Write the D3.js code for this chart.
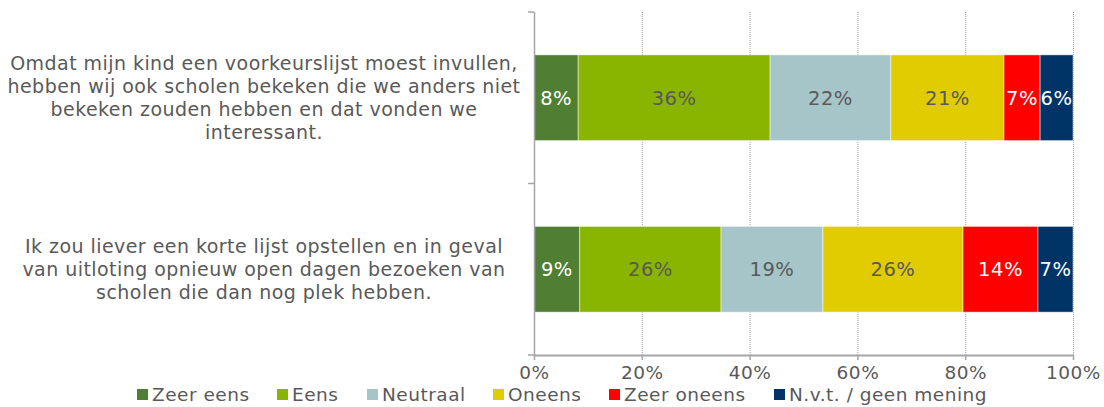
<!DOCTYPE html>
<html><head><meta charset="utf-8">
<script src="https://cdn.jsdelivr.net/npm/d3@7"></script>
<style>body{margin:0;background:#fff;} svg{display:block;font-family:"DejaVu Sans",Verdana,sans-serif;}</style>
</head><body>
<svg id="c" width="1104" height="407"></svg>
<script>
const categories = [
  ["Omdat mijn kind een voorkeurslijst moest invullen,", "hebben wij ook scholen bekeken die we anders niet", "bekeken zouden hebben en dat vonden we", "interessant."],
  ["Ik zou liever een korte lijst opstellen en in geval", "van uitloting opnieuw open dagen bezoeken van", "scholen die dan nog plek hebben."]
];
const seriesNames = ["Zeer eens", "Eens", "Neutraal", "Oneens", "Zeer oneens", "N.v.t. / geen mening"];
const seriesColors = ["#507f34", "#89b400", "#a5c5c8", "#e0cc00", "#ff0000", "#003366"];
const labelColors = ["#ffffff", "#595959", "#595959", "#595959", "#ffffff", "#ffffff"];
const values = [
  [8.2, 35.6, 22.4, 21.0, 6.7, 6.1],
  [8.5, 26.2, 18.9, 26.0, 13.9, 6.5]
];
const tickValues = [0, 20, 40, 60, 80, 100];

const svg = d3.select("#c");
const x = d3.scaleLinear().domain([0, 100]).range([534, 1073]);
const y = d3.scaleBand().domain([0, 1]).range([12, 355]).paddingInner(0.5).paddingOuter(0.25);
const textCol = "#595959";
const axisCol = "#a6a6a6";

// gridlines
svg.append("g").selectAll("line").data(tickValues.slice(1)).join("line")
  .attr("x1", d => x(d) + 0.5).attr("x2", d => x(d) + 0.5)
  .attr("y1", 12).attr("y2", 355)
  .attr("stroke", "#a0a0a0").attr("stroke-width", 1).attr("stroke-dasharray", "1,1");

// bars
values.forEach((row, i) => {
  let cum = 0;
  const segs = row.map((v, j) => { const s = {i, j, v, x0: cum, x1: cum + v}; cum += v; return s; });
  const g = svg.append("g");
  g.selectAll("rect").data(segs).join("rect")
    .attr("x", d => x(d.x0)).attr("width", d => x(d.x1) - x(d.x0))
    .attr("y", y(i)).attr("height", y.bandwidth())
    .attr("fill", d => seriesColors[d.j])
    .attr("stroke", "rgba(255,255,255,0.6)").attr("stroke-width", 0.8);
  g.selectAll("text").data(segs).join("text")
    .attr("x", d => x((d.x0 + d.x1) / 2)).attr("y", y(i) + y.bandwidth() / 2)
    .attr("dy", "0.36em").attr("text-anchor", "middle")
    .attr("font-size", 19.5).attr("letter-spacing", 0.5).attr("fill", d => labelColors[d.j])
    .text(d => Math.round(d.v) + "%");
});

// y axis
const yAxisG = svg.append("g");
yAxisG.append("line").attr("x1", 534.5).attr("x2", 534.5).attr("y1", 12).attr("y2", 355).attr("stroke", axisCol).attr("stroke-width", 1.5);
yAxisG.selectAll("line.t").data([12, 183.5, 355]).join("line").attr("class", "t")
  .attr("x1", 528).attr("x2", 534).attr("y1", d => d).attr("y2", d => d).attr("stroke", axisCol).attr("stroke-width", 1.5);

// x axis
const xAxis = d3.axisBottom(x).tickValues(tickValues).tickFormat(d => d + "%").tickSize(5).tickSizeOuter(0);
const xg = svg.append("g").attr("transform", "translate(0,355)").call(xAxis);
xg.select(".domain").attr("stroke", axisCol).attr("stroke-width", 2);
xg.selectAll(".tick line").attr("stroke", axisCol).attr("stroke-width", 1.5);
xg.selectAll(".tick text").attr("fill", textCol).attr("font-size", 18.5).attr("letter-spacing", 0.5)
  .attr("font-family", '"DejaVu Sans",Verdana,sans-serif').attr("y", 11).attr("dy", "0.71em");

// category labels
categories.forEach((lines, i) => {
  const cy = y(i) + y.bandwidth() / 2;
  const lh = 23;
  const t = svg.append("text").attr("text-anchor", "middle").attr("font-size", 19).attr("letter-spacing", 0.45).attr("fill", textCol);
  lines.forEach((ln, k) => {
    t.append("tspan").attr("x", 264).attr("y", cy + (k - (lines.length - 1) / 2) * lh).attr("dy", "0.36em").text(ln);
  });
});

// legend
const legendX = [137, 277, 367, 493, 609, 774];
const lg = svg.append("g");
seriesNames.forEach((n, j) => {
  lg.append("rect").attr("x", legendX[j]).attr("y", 389).attr("width", 11).attr("height", 11).attr("fill", seriesColors[j]);
  lg.append("text").attr("x", legendX[j] + 15).attr("y", 401).attr("font-size", 18.5).attr("letter-spacing", 0.5).attr("fill", textCol).text(n);
});
</script>
</body></html>
